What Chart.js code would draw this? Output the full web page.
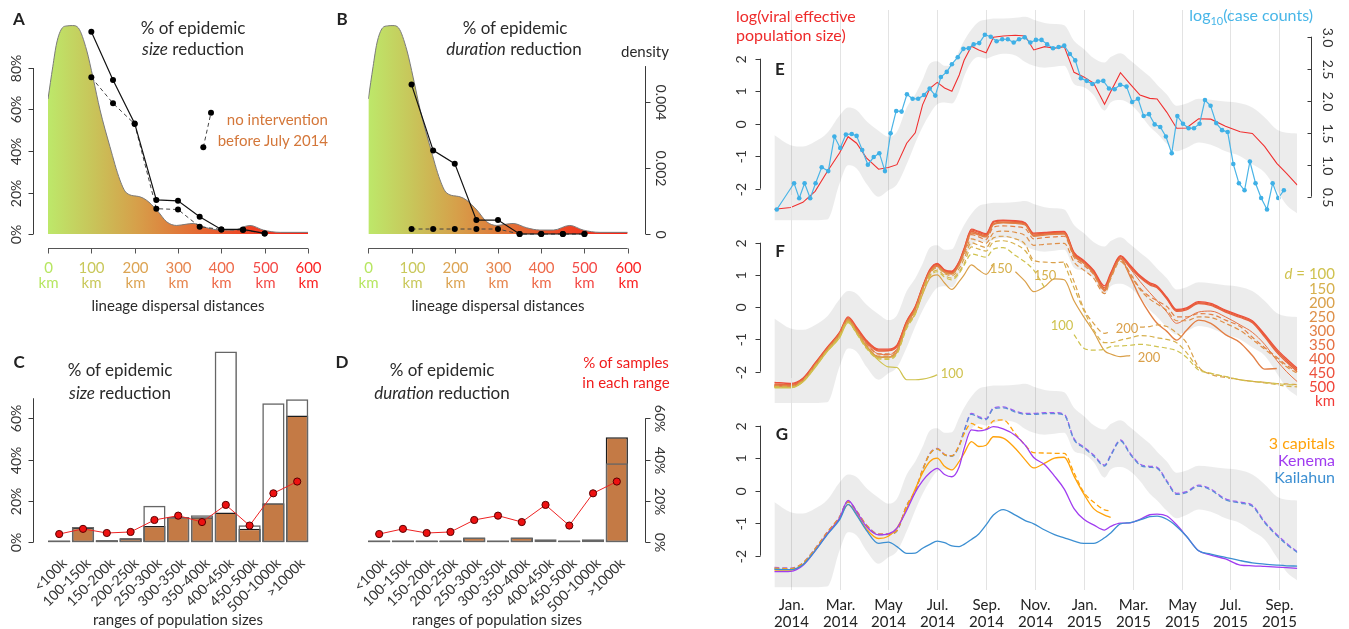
<!DOCTYPE html>
<html>
<head>
<meta charset="utf-8">
<title>Intervention scenarios and effective population size</title>
<script src="https://cdn.jsdelivr.net/npm/chart.js@4.4.1/dist/chart.umd.min.js"></script>
<style>
  html, body { margin: 0; padding: 0; background: #fff; }
  body { width: 1349px; height: 629px; position: relative; overflow: hidden; font-family: Lato, "Open Sans", sans-serif; color: #2a2a2a; }
  canvas { position: absolute; left: 0; top: 0; }
  .t { position: absolute; z-index: 5; white-space: nowrap; line-height: 1; transform: translate(-50%, -50%); }
  .r { transform: translate(-100%, -50%); }
  .l { transform: translate(0, -50%); }
  .title { font-size: 17px; }
  .lab { font-size: 17px; font-weight: bold; color: #222; }
  .axt { font-size: 15px; }
  .leg { font-size: 15px; }
  .fl { font-size: 13px; }
  sub { font-size: 11px; vertical-align: -4px; line-height: 0; }
</style>
</head>
<body>

<div class="t lab" style="left:19px;top:18px">A</div>
<div class="t lab" style="left:342px;top:18px">B</div>
<div class="t lab" style="left:19px;top:361px">C</div>
<div class="t lab" style="left:342px;top:361px">D</div>
<div class="t lab" style="left:780px;top:68px">E</div>
<div class="t lab" style="left:780px;top:250px">F</div>
<div class="t lab" style="left:782px;top:433px">G</div>

<div class="t title" style="left:193px;top:27px">% of epidemic</div>
<div class="t title" style="left:193px;top:48px"><i>size</i> reduction</div>
<div class="t title" style="left:515px;top:27px">% of epidemic</div>
<div class="t title" style="left:514px;top:48px"><i>duration</i> reduction</div>
<div class="t axt" style="left:645px;top:51px">density</div>
<div class="t leg r" style="left:328px;top:119px;color:#d4773a">no intervention</div>
<div class="t leg r" style="left:328px;top:140px;color:#d4773a">before July 2014</div>
<div class="t axt" style="left:178px;top:305px">lineage dispersal distances</div>
<div class="t axt" style="left:498px;top:305px">lineage dispersal distances</div>

<div class="t title" style="left:120px;top:369px">% of epidemic</div>
<div class="t title" style="left:120px;top:392px"><i>size</i> reduction</div>
<div class="t title" style="left:442px;top:369px">% of epidemic</div>
<div class="t title" style="left:442px;top:392px"><i>duration</i> reduction</div>
<div class="t leg" style="left:626px;top:362px;color:#f01c1c">% of samples</div>
<div class="t leg" style="left:626px;top:382px;color:#f01c1c">in each range</div>
<div class="t axt" style="left:178px;top:619px">ranges of population sizes</div>
<div class="t axt" style="left:497px;top:619px">ranges of population sizes</div>

<div class="t leg l" style="left:736px;top:16px;color:#ee2b2b;font-size:16px">log(viral effective</div>
<div class="t leg l" style="left:736px;top:35px;color:#ee2b2b;font-size:16px">population size)</div>
<div class="t leg r" style="left:1313px;top:15px;color:#48b6e8;font-size:16px">log<sub>10</sub>(case counts)</div>

<div class="t leg r" style="left:1335px;top:273px;color:#cfc24e"><i>d</i> = 100</div>
<div class="t leg r" style="left:1335px;top:288px;color:#d6b04c">150</div>
<div class="t leg r" style="left:1335px;top:302px;color:#daa04a">200</div>
<div class="t leg r" style="left:1335px;top:316px;color:#de8f48">250</div>
<div class="t leg r" style="left:1335px;top:330px;color:#e27f45">300</div>
<div class="t leg r" style="left:1335px;top:344px;color:#e66f42">350</div>
<div class="t leg r" style="left:1335px;top:358px;color:#e9603f">400</div>
<div class="t leg r" style="left:1335px;top:372px;color:#ed503c">450</div>
<div class="t leg r" style="left:1335px;top:386px;color:#f04438">500</div>
<div class="t leg r" style="left:1335px;top:400px;color:#f23a36">km</div>

<div class="t fl" style="left:952px;top:373px;color:#cfc24e">100</div>
<div class="t fl" style="left:1001px;top:268px;color:#d6b04c">150</div>
<div class="t fl" style="left:1045px;top:275px;color:#d6b04c">150</div>
<div class="t fl" style="left:1062px;top:325px;color:#cfc24e">100</div>
<div class="t fl" style="left:1127px;top:328px;color:#daa04a">200</div>
<div class="t fl" style="left:1149px;top:357px;color:#daa04a">200</div>

<div class="t leg r" style="left:1335px;top:443px;color:#ffa20a;font-size:16px">3 capitals</div>
<div class="t leg r" style="left:1335px;top:460px;color:#a03cf0;font-size:16px">Kenema</div>
<div class="t leg r" style="left:1335px;top:477px;color:#3c8fd2;font-size:16px">Kailahun</div>

<script>
// ---------- panels A & B: lineage dispersal distances ----------
const distKm = [0, 11, 20, 33, 44, 57, 70, 89, 104, 120, 143, 166, 181, 212, 227, 251, 274, 297, 320, 335, 366, 397, 428, 466, 497, 536, 600];
const density = [0.00410, 0.00508, 0.00580, 0.00626, 0.00632, 0.00633, 0.00626, 0.00559, 0.00474, 0.00377, 0.00265, 0.00164, 0.00125, 0.00113, 0.00103, 0.00073, 0.00037, 0.00026, 0.00030, 0.00032, 0.00019, 0.00012, 0.00012, 0.00026, 0.00012, 0.00005, 0.00005];
const interventionKm = [100, 150, 200, 250, 300, 350, 400, 450, 500];
const sizeReduction = [97.5, 74.2, 53.3, 16.4, 16.0, 8.3, 2.2, 2.2, 0.3];
const sizeReductionLate = [75.5, 63.0, 53.0, 12.2, 11.8, 3.5, 2.2, 1.9, 0.3];
const durationReduction = [72.0, 40.3, 33.9, 6.7, 6.7, 0, 0, 0, 0];
const durationReductionLate = [2.4, 2.4, 2.4, 2.4, 2.4, 0, 0, 0, 0];
const kmTicks = [0, 100, 200, 300, 400, 500, 600];
const kmColors = ['#b7e661', '#c9c85b', '#dca453', '#e6864f', '#ee6a4a', '#f44a47', '#fb2424'];

// ---------- panels C & D: ranges of population sizes ----------
const popRanges = ['<100k', '100-150k', '150-200k', '200-250k', '250-300k', '300-350k', '350-400k', '400-450k', '450-500k', '500-1000k', '>1000k'];
const sizeFilled = [0.9, 7.1, 1.0, 1.9, 7.9, 12.3, 12.1, 14.4, 6.5, 18.9, 61.3];
const sizeOpen = [0.9, 7.4, 1.0, 1.9, 17.7, 12.3, 13.1, 92.3, 8.2, 67.3, 69.2];
const durationFilled = [0.9, 0.9, 0.9, 0.9, 2.3, 0.9, 2.3, 0, 0.9, 0, 50.8];
const durationOpen = [0.9, 0.9, 0.9, 0.9, 2.3, 0.9, 2.3, 1.5, 0.9, 1.5, 38.2];
const samplePct = [4.0, 6.5, 4.5, 5.0, 10.8, 12.9, 9.8, 18.1, 8.1, 23.7, 29.4];

// ---------- panels E, F, G: time in months since 1 Jan 2014 ----------
const monthTicks = [0, 2, 4, 6, 8, 10, 12, 14, 16, 18, 20];
const monthLabels = [['Jan.', '2014'], ['Mar.', '2014'], ['May', '2014'], ['Jul.', '2014'], ['Sep.', '2014'], ['Nov.', '2014'],
                     ['Jan.', '2015'], ['Mar.', '2015'], ['May', '2015'], ['Jul.', '2015'], ['Sep.', '2015']];
const MONTHS = [-0.67, 0, 0.5, 1, 1.5, 2, 2.35, 2.7, 3.1, 3.6,
                4.0, 4.35, 4.75, 5.1, 5.4, 5.7, 6.0, 6.3, 6.6, 6.9,
                7.1, 7.4, 7.7, 8.0, 8.3, 8.7, 9.2, 9.6, 9.95, 10.4,
                10.8, 11.2, 11.6, 12.0, 12.4, 12.85, 13.1, 13.5, 13.9, 14.3,
                14.7, 15.0, 15.4, 15.8, 16.2, 16.7, 17.2, 17.8, 18.4, 18.9,
                19.4, 19.9, 20.3, 20.74];

const bandUpper = [-0.35, -0.66, -0.70, -0.55, -0.28, 0.25, 0.50, 0.42, 0.08, -0.22,
                   -0.40, -0.25, 0.50, 0.90, 1.35, 1.85, 1.92, 1.78, 1.80, 2.25,
                   2.55, 2.90, 3.14, 3.20, 3.24, 3.24, 3.26, 3.29, 3.20, 3.10,
                   3.07, 3.03, 2.55, 2.30, 2.02, 1.88, 2.05, 2.17, 1.95, 1.70,
                   1.45, 1.20, 0.90, 0.55, 0.62, 0.77, 0.74, 0.68, 0.63, 0.50,
                   0.20, -0.18, -0.28, -0.30];
const bandLower = [-2.97, -2.97, -2.97, -2.97, -2.95, -1.85, -1.28, -1.38, -1.85, -2.25,
                   -2.05, -1.87, -1.25, -0.60, -0.10, 0.30, 0.60, 0.65, 0.62, 1.00,
                   1.45, 1.90, 2.05, 2.00, 2.08, 2.15, 2.10, 1.90, 1.78, 1.72,
                   1.75, 1.78, 1.22, 1.12, 0.88, 0.40, 0.65, 0.73, 0.60, 0.30,
                   -0.09, -0.30, -0.62, -0.85, -0.75, -0.58, -0.65, -0.85, -1.00, -1.25,
                   -1.50, -2.05, -2.50, -2.76];
const logNe = [-2.63, -2.58, -2.42, -2.08, -1.47, -0.90, -0.40, -0.60, -1.05, -1.40,
               -1.35, -1.26, -0.60, -0.28, 0.58, 1.09, 1.27, 1.10, 1.00, 1.50,
               1.95, 2.38, 2.27, 2.18, 2.66, 2.70, 2.72, 2.70, 2.27, 2.37,
               2.32, 2.37, 1.58, 1.44, 1.25, 0.60, 0.98, 1.57, 1.22, 0.88,
               0.78, 0.76, 0.35, -0.14, -0.13, 0.15, 0.14, -0.08, -0.25, -0.30,
               -0.70, -1.22, -1.53, -1.89];

const caseMonths = [-0.57, 0.14, 0.35, 0.57, 0.80, 1.02, 1.27, 1.54, 1.79, 2.03, 2.26, 2.50, 2.70, 2.93, 3.16, 3.40, 3.63, 3.86, 4.09, 4.32,
                    4.54, 4.76, 4.99, 5.22, 5.46, 5.69, 5.92, 6.15, 6.39, 6.60, 6.84, 7.07, 7.29, 7.49, 7.72, 7.95, 8.19, 8.43, 8.66, 8.89,
                    9.13, 9.35, 9.58, 9.81, 10.04, 10.27, 10.50, 10.74, 10.97, 11.20, 11.43, 11.65, 11.88, 12.12, 12.35, 12.58, 12.80, 13.03, 13.26, 13.49,
                    13.75, 13.98, 14.22, 14.45, 14.67, 14.90, 15.13, 15.36, 15.60, 15.83, 16.06, 16.29, 16.51, 16.74, 16.96, 17.19, 17.42, 17.66, 17.89, 18.12,
                    18.35, 18.58, 18.80, 19.03, 19.26, 19.50, 19.73, 19.96, 20.19];
const caseLog10 = [0.30, 0.71, 0.475, 0.71, 0.475, 0.71, 0.96, 0.90, 1.44, 1.26, 1.47, 1.48, 1.45, 1.23, 1.00, 1.12, 1.18, 0.90, 1.49, 1.84,
                   1.83, 2.10, 2.03, 2.03, 2.09, 2.19, 2.08, 2.37, 2.45, 2.57, 2.68, 2.81, 2.82, 2.88, 2.90, 3.03, 3.00, 2.93, 2.96, 2.96,
                   2.91, 2.96, 2.99, 2.91, 2.95, 2.95, 2.88, 2.82, 2.84, 2.86, 2.73, 2.63, 2.35, 2.31, 2.26, 2.30, 2.31, 2.19, 2.18, 2.25,
                   2.22, 1.98, 2.03, 1.76, 1.79, 1.63, 1.59, 1.44, 1.18, 1.76, 1.64, 1.57, 1.57, 1.64, 2.01, 1.92, 1.65, 1.54, 1.51, 1.01,
                   0.71, 0.60, 1.05, 0.71, 0.48, 0.30, 0.71, 0.48, 0.60];

// F: simulations with a maximal lineage dispersal distance d (solid / dashed scenarios)
const fSolid500 = [-2.38, -2.40, -2.22, -1.75, -1.26, -0.80, -0.33, -0.65, -1.05, -1.33,
                   -1.33, -1.20, -0.45, 0.00, 0.62, 1.15, 1.33, 1.14, 1.10, 1.40,
                   1.80, 2.39, 2.32, 2.25, 2.63, 2.68, 2.66, 2.60, 2.27, 2.30,
                   2.32, 2.33, 1.66, 1.42, 1.12, 0.60, 1.02, 1.57, 1.26, 0.95,
                   0.72, 0.63, 0.28, -0.10, -0.05, 0.14, 0.09, -0.12, -0.29, -0.45,
                   -0.88, -1.35, -1.65, -1.95];
const fSolid450 = [-2.33, -2.36, -2.20, -1.73, -1.24, -0.78, -0.30, -0.62, -1.02, -1.30,
                   -1.30, -1.18, -0.43, 0.02, 0.64, 1.17, 1.36, 1.16, 1.12, 1.42,
                   1.82, 2.42, 2.35, 2.28, 2.66, 2.70, 2.68, 2.62, 2.30, 2.32,
                   2.34, 2.35, 1.70, 1.45, 1.15, 0.66, 1.06, 1.60, 1.30, 0.98,
                   0.76, 0.66, 0.31, -0.07, -0.02, 0.17, 0.12, -0.09, -0.26, -0.42,
                   -0.84, -1.30, -1.60, -1.90];
const fSolid400 = [-2.43, -2.44, -2.25, -1.78, -1.29, -0.83, -0.37, -0.68, -1.08, -1.36,
                   -1.35, -1.22, -0.48, -0.03, 0.60, 1.12, 1.30, 1.12, 1.07, 1.37,
                   1.76, 2.35, 2.28, 2.21, 2.58, 2.64, 2.63, 2.57, 2.23, 2.27,
                   2.29, 2.30, 1.62, 1.38, 1.08, 0.55, 0.98, 1.53, 1.23, 0.92,
                   0.69, 0.60, 0.25, -0.13, -0.08, 0.11, 0.06, -0.15, -0.32, -0.48,
                   -0.92, -1.40, -1.70, -2.00];
const fSolid350 = [-2.40, -2.42, -2.24, -1.77, -1.28, -0.81, -0.35, -0.70, -1.12, -1.45,
                   -1.47, -1.30, -0.50, -0.05, 0.58, 1.10, 1.28, 1.10, 1.05, 1.35,
                   1.74, 2.33, 2.26, 2.20, 2.58, 2.63, 2.62, 2.56, 2.22, 2.26,
                   2.28, 2.29, 1.62, 1.38, 1.07, 0.55, 0.97, 1.52, 1.20, 0.80,
                   0.45, 0.20, -0.15, -0.50, -0.35, -0.15, -0.12, -0.30, -0.55, -0.78,
                   -1.15, -1.65, -2.00, -2.31];
const fSolid300 = [-2.45, -2.46, -2.28, -1.80, -1.30, -0.85, -0.38, -0.75, -1.20, -1.55,
                   -1.55, -1.38, -0.55, -0.08, 0.56, 1.08, 1.27, 1.08, 1.03, 1.33,
                   1.72, 2.30, 2.24, 2.18, 2.56, 2.62, 2.60, 2.55, 2.20, 2.24,
                   2.26, 2.27, 1.60, 1.36, 1.05, 0.52, 0.95, 1.50, 0.95, 0.30,
                   -0.20, -0.50, -0.75, -1.02, -0.72, -0.40, -0.50, -0.85, -1.10, -1.50,
                   -1.92, -1.90, null, null];
const fSolid200 = [-2.47, -2.48, -2.30, -1.83, -1.33, -0.88, -0.42, -0.78, -1.22, -1.55,
                   -1.55, -1.40, -0.60, -0.20, 0.40, 0.90, 1.00, 0.75, 0.55, 0.80,
                   1.00, 1.31, 1.15, 1.02, 1.31, null, 1.10, 0.80, 0.48, 0.64,
                   0.88, 0.85, 0.20, -0.30, -0.76, -1.35, -1.45, -1.53, -1.50, null,
                   null, null, null, null, null, null, null, null, null, null,
                   null, null, null, null];
const fSolid100 = [-2.50, -2.50, -2.32, -1.87, -1.37, -0.95, -0.48, -0.80, -1.25, -1.65,
                   -1.85, -1.87, -2.25, -2.25, -2.23, -2.18, -2.10, null, null, null,
                   null, null, null, null, null, null, null, null, null, null,
                   null, null, null, null, null, null, null, null, null, null,
                   null, null, null, null, null, null, null, null, null, null,
                   null, null, null, null];
const fDash300 = [-2.42, -2.43, -2.25, -1.78, -1.29, -0.83, -0.36, -0.70, -1.12, -1.45,
                  -1.45, -1.30, -0.50, -0.05, 0.58, 1.10, 1.27, 1.10, 1.05, 1.33,
                  1.70, 2.25, 2.18, 2.10, 2.48, 2.52, 2.50, 2.44, 2.12, 2.16,
                  2.18, 2.20, 1.55, 1.30, 1.02, 0.50, 0.93, 1.48, 1.05, 0.59,
                  0.33, 0.20, 0.02, -0.30, -0.30, -0.20, -0.22, -0.40, -0.60, -0.93,
                  -1.25, -1.55, -1.80, -2.00];
const fDash250 = [-2.44, -2.45, -2.27, -1.80, -1.31, -0.85, -0.38, -0.74, -1.18, -1.52,
                  -1.52, -1.36, -0.54, -0.08, 0.56, 1.08, 1.26, 1.08, 1.03, 1.30,
                  1.62, 2.12, 2.05, 1.98, 2.30, 2.36, 2.32, 2.22, 1.92, 1.95,
                  1.97, 1.98, 1.40, 1.15, 0.90, 0.42, 0.88, 1.42, 1.00, 0.55,
                  0.25, 0.10, -0.10, -0.42, -0.42, -0.30, -0.32, -0.50, -0.72, -1.00,
                  -1.30, -1.60, -1.85, -2.05];
const fDash200 = [-2.46, -2.47, -2.29, -1.82, -1.33, -0.87, -0.41, -0.78, -1.22, -1.55,
                  -1.56, -1.40, -0.58, -0.12, 0.52, 1.04, 1.22, 1.04, 0.98, 1.20,
                  1.50, 2.00, 1.92, 1.85, 2.15, 2.20, 2.12, 1.95, 1.45, 1.40,
                  1.38, 1.40, 0.80, -0.05, -0.50, -0.81, -0.75, null, null, -0.62,
                  -0.60, -0.55, -0.60, -0.80, -1.10, -1.85, -2.08, -2.18, -2.25, -2.30,
                  -2.33, -2.37, -2.38, -2.40];
const fDash150 = [-2.47, -2.48, -2.30, -1.84, -1.35, -0.90, -0.44, -0.80, -1.25, -1.57,
                  -1.58, -1.42, -0.62, -0.18, 0.46, 0.98, 1.15, 0.98, 0.90, 1.10,
                  1.35, 1.87, 1.80, 1.74, 2.02, 2.06, 1.95, 1.75, 1.35, null,
                  null, 1.36, 0.60, -0.10, -0.70, -1.10, -1.10, -1.02, -0.95, -0.88,
                  -0.90, -0.95, -1.00, -1.10, -1.40, -1.90, -2.05, -2.15, -2.25, -2.30,
                  -2.35, -2.40, -2.45, -2.47];
const fDash100 = [-2.48, -2.49, -2.31, -1.85, -1.36, -0.92, -0.46, -0.82, -1.28, -1.60,
                  -1.62, -1.45, -0.66, -0.22, 0.42, 0.95, 1.10, 0.93, 0.85, 1.05,
                  1.30, 1.65, 1.60, 1.55, 1.80, 1.85, 1.60, 1.40, 1.15, 0.60,
                  null, null, -0.85, -1.27, -1.33, -1.30, -1.22, -1.20, -1.18, -1.15,
                  -1.18, -1.22, -1.27, -1.35, -1.55, -1.95, -2.05, -2.15, -2.25, -2.30,
                  -2.33, -2.37, -2.40, -2.41];

// G: simulations starting from the three capitals, Kenema or Kailahun
const gKenemaDash = [-2.36, -2.38, -2.22, -1.78, -1.27, -0.80, -0.32, -0.62, -1.05, -1.33,
                     -1.33, -1.22, -0.45, 0.00, 0.65, 1.15, 1.30, 1.12, 1.08, 1.40,
                     1.85, 2.38, 2.28, 2.22, 2.55, 2.58, 2.45, 2.38, 2.38, 2.40,
                     2.40, 2.35, 1.60, 1.35, 1.10, 0.79, 1.10, 1.56, 1.15, 0.82,
                     0.75, 0.72, 0.30, -0.08, -0.03, 0.17, 0.05, -0.25, -0.35, -0.45,
                     -0.95, -1.35, -1.62, -1.88];
const gKailahunDash = [-2.40, -2.41, -2.24, -1.80, -1.29, -0.82, -0.35, -0.64, -1.07, -1.35,
                       -1.35, -1.24, -0.47, -0.02, 0.63, 1.13, 1.28, 1.10, 1.06, 1.38,
                       1.83, 2.35, 2.25, 2.19, 2.52, 2.55, 2.42, 2.35, 2.35, 2.37,
                       2.37, 2.32, 1.57, 1.32, 1.07, 0.76, 1.07, 1.53, 1.12, 0.79,
                       0.72, 0.69, 0.27, -0.11, -0.06, 0.14, 0.02, -0.28, -0.38, -0.48,
                       -0.98, -1.38, -1.65, -1.90];
const gCapitalsDash = [-2.38, -2.40, -2.23, -1.79, -1.28, -0.81, -0.34, -0.63, -1.06, -1.34,
                       -1.34, -1.23, -0.46, -0.01, 0.64, 1.14, 1.29, 1.11, 1.07, 1.39,
                       1.75, 2.07, 1.95, 1.90, 2.15, 2.18, 1.75, 1.40, 1.17, 1.16,
                       1.15, 1.15, 0.55, -0.05, -0.35, -0.59, -0.62, null, null, null,
                       null, null, null, null, null, null, null, null, null, null,
                       null, null, null, null];
const gCapitals = [-2.44, -2.44, -2.27, -1.83, -1.32, -0.85, -0.42, -0.72, -1.18, -1.47,
                   -1.40, -1.15, -0.55, 0.05, 0.55, 0.90, 1.00, 0.75, 0.64, 0.90,
                   1.15, 1.51, 1.36, 1.40, 1.66, 1.62, 1.30, 0.95, 0.70, 0.85,
                   1.00, 1.03, 0.45, -0.10, -0.55, -0.75, -0.82, null, null, null,
                   null, null, null, null, null, null, null, null, null, null,
                   null, null, null, null];
const gKenema = [-2.49, -2.48, -2.30, -1.85, -1.33, -0.85, -0.30, -0.65, -1.10, -1.36,
                 -1.33, -1.15, -0.60, -0.05, 0.30, 0.55, 0.69, 0.50, 0.43, 0.74,
                 1.30, 1.87, 1.84, 1.88, 1.97, 1.90, 1.70, 1.40, 1.02, 0.80,
                 0.45, 0.05, -0.55, -0.88, -1.05, -1.21, -1.10, -1.00, -0.99, -0.88,
                 -0.74, -0.72, -0.78, -1.05, -1.40, -1.85, -1.98, -2.10, -2.29, -2.31,
                 -2.33, -2.35, -2.37, -2.39];
const gKailahun = [-2.42, -2.43, -2.28, -1.85, -1.35, -0.90, -0.42, -0.75, -1.22, -1.62,
                   -1.58, -1.72, -1.93, -1.92, -1.77, -1.65, -1.55, -1.60, -1.70, -1.72,
                   -1.65, -1.50, -1.33, -1.05, -0.75, -0.58, -0.75, -0.92, -1.02, -1.21,
                   -1.35, -1.45, -1.55, -1.62, -1.62, -1.45, -1.30, -1.02, -0.98, -0.90,
                   -0.80, -0.78, -0.88, -1.10, -1.40, -1.85, -1.95, -2.05, -2.15, -2.22,
                   -2.26, -2.29, -2.31, -2.32];

const dColors = { 100: '#cfc24e', 150: '#d6b04c', 200: '#daa04a', 250: '#de8f48', 300: '#e27f45',
                  350: '#e66f42', 400: '#e9603f', 450: '#ed503c', 500: '#f04438' };

// ---------- helpers ----------
const W = 1349, H = 629;
const FONT = 'Lato, "Open Sans", sans-serif';

function makeCanvas(id) {
  const c = document.createElement('canvas');
  c.id = id;
  c.width = W;
  c.height = H;
  c.style.width = W + 'px';
  c.style.height = H + 'px';
  document.body.appendChild(c);
  return c;
}

// min/max of a vertical scale so that value v1 sits at pixel p1 and v2 at p2
function vRange(v1, p1, v2, p2, top, bottom) {
  const k = (p2 - p1) / (v2 - v1);
  return { min: v1 + (bottom - p1) / k, max: v1 + (top - p1) / k };
}

function series(xs, ys) {
  return xs.map((x, i) => ({ x: x, y: ys[i] }));
}

function drawAxis(ctx, scale, ax) {
  ctx.save();
  ctx.strokeStyle = ax.lineColor || '#3a3a3a';
  ctx.fillStyle = ax.color || '#333';
  ctx.lineWidth = 1;
  ctx.font = ax.font || ('14px ' + FONT);
  const vertical = ax.side === 'left' || ax.side === 'right';
  const out = ax.side === 'left' ? -1 : 1;
  const tdir = ax.inward ? -out : out;
  const pos = (v) => scale.getPixelForValue(v);
  if (ax.span) {
    const p0 = pos(ax.span[0]), p1 = pos(ax.span[1]);
    ctx.beginPath();
    if (vertical) { ctx.moveTo(ax.at, p0); ctx.lineTo(ax.at, p1); }
    else { ctx.moveTo(p0, ax.at); ctx.lineTo(p1, ax.at); }
    ctx.stroke();
  }
  ax.ticks.forEach((v, i) => {
    const p = Math.round(pos(v)) + 0.5;
    if (ax.tick) {
      ctx.beginPath();
      if (vertical) { ctx.moveTo(ax.at, p); ctx.lineTo(ax.at + tdir * ax.tick, p); }
      else { ctx.moveTo(p, ax.at); ctx.lineTo(p, ax.at + tdir * ax.tick); }
      ctx.stroke();
    }
    const lines = [].concat(ax.labels[i]);
    if (ax.colors) ctx.fillStyle = ax.colors[i];
    ctx.save();
    if (vertical) ctx.translate(ax.at + out * ax.gap, p);
    else ctx.translate(p + (ax.dx || 0), ax.at + ax.gap);
    ctx.rotate((ax.rot || 0) * Math.PI / 180);
    ctx.textAlign = ax.align || 'center';
    ctx.textBaseline = 'middle';
    lines.forEach((s, j) => ctx.fillText(s, 0, j * (ax.lineH || 0)));
    ctx.restore();
  });
  ctx.restore();
}

const rAxisPlugin = {
  id: 'rAxis',
  beforeDatasetsDraw(chart, args, opts) {
    if (!opts.vgrid) return;
    const ctx = chart.ctx, sx = chart.scales.x, a = chart.chartArea;
    ctx.save();
    ctx.strokeStyle = '#e3e3e3';
    ctx.lineWidth = 1;
    opts.vgrid.forEach((v) => {
      const x = Math.round(sx.getPixelForValue(v)) + 0.5;
      ctx.beginPath();
      ctx.moveTo(x, a.top);
      ctx.lineTo(x, a.bottom);
      ctx.stroke();
    });
    ctx.restore();
  },
  afterDraw(chart, args, opts) {
    const ctx = chart.ctx;
    (opts.axes || []).forEach((ax) => drawAxis(ctx, chart.scales[ax.scale], ax));
    (opts.keys || []).forEach((k) => {
      ctx.save();
      ctx.strokeStyle = k.color;
      ctx.fillStyle = '#000';
      ctx.lineWidth = 1;
      ctx.setLineDash(k.dash || []);
      ctx.beginPath();
      ctx.moveTo(k.x1, k.y1);
      ctx.lineTo(k.x2, k.y2);
      ctx.stroke();
      ctx.setLineDash([]);
      [[k.x1, k.y1], [k.x2, k.y2]].forEach((p) => {
        ctx.beginPath();
        ctx.arc(p[0], p[1], 3, 0, Math.PI * 2);
        ctx.fill();
      });
      ctx.restore();
    });
  }
};
Chart.register(rAxisPlugin);

function baseOptions(area, scales, rAxis) {
  return {
    responsive: false,
    animation: false,
    devicePixelRatio: 1,
    events: [],
    layout: { padding: { left: area.l, top: area.t, right: W - area.r, bottom: H - area.b } },
    plugins: { legend: { display: false }, tooltip: { enabled: false }, rAxis: rAxis },
    scales: scales
  };
}

function densityFill(c) {
  const chart = c.chart, a = chart.chartArea;
  if (!a) return 'rgba(0,0,0,0)';
  const g = chart.ctx.createLinearGradient(a.left, 0, a.right, 0);
  g.addColorStop(0, '#bde86a');
  g.addColorStop(0.17, '#c8c55a');
  g.addColorStop(0.34, '#d6a04a');
  g.addColorStop(0.5, '#e07a3a');
  g.addColorStop(0.67, '#ea572c');
  g.addColorStop(0.83, '#f2381f');
  g.addColorStop(1, '#ff2012');
  return g;
}

// ---------- A and B ----------
function distancePanel(id, area, solid, dashed, extraAxes, keys) {
  const pct = vRange(0, 234, 80, 68, area.t, area.b);
  const dens = vRange(0, 234, 0.004, 102.3, area.t, area.b);
  const axes = [{
    scale: 'x', side: 'bottom', at: 248.5, ticks: kmTicks, span: [0, 600], tick: 5, gap: 20, lineH: 15,
    labels: kmTicks.map((v) => [String(v), 'km']), colors: kmColors, font: '15px ' + FONT, lineColor: '#555'
  }].concat(extraAxes);
  new Chart(makeCanvas(id), {
    type: 'line',
    data: {
      datasets: [
        { data: series(interventionKm, solid), yAxisID: 'y', borderColor: '#111', borderWidth: 1.2,
          pointRadius: 3, pointBackgroundColor: '#000', pointBorderWidth: 0, clip: false, order: 0 },
        { data: series(interventionKm, dashed), yAxisID: 'y', borderColor: '#444', borderWidth: 1, borderDash: [4, 3],
          pointRadius: 3, pointBackgroundColor: '#000', pointBorderWidth: 0, clip: false, order: 1 },
        { data: series(distKm, density), yAxisID: 'yd', borderColor: '#7a7a7a', borderWidth: 1, pointRadius: 0,
          fill: 'origin', backgroundColor: densityFill, cubicInterpolationMode: 'monotone', order: 5 }
      ]
    },
    options: baseOptions(area, {
      x: { type: 'linear', min: 0, max: 600, display: false },
      y: { type: 'linear', min: pct.min, max: pct.max, display: false },
      yd: { type: 'linear', min: dens.min, max: dens.max, display: false }
    }, { axes: axes, keys: keys || [] })
  });
}

distancePanel('chartA', { l: 48, r: 308, t: 18, b: 234 }, sizeReduction, sizeReductionLate, [{
  scale: 'y', side: 'left', at: 33.5, ticks: [0, 20, 40, 60, 80], span: [0, 80], tick: 5, gap: 17, rot: -90,
  labels: ['0%', '20%', '40%', '60%', '80%'], font: '14px ' + FONT
}], [{ x1: 203.3, y1: 147.3, x2: 211, y2: 112.7, dash: [4, 3], color: '#444' }]);

distancePanel('chartB', { l: 368.3, r: 627.7, t: 18, b: 234 }, durationReduction, durationReductionLate, [{
  scale: 'yd', side: 'right', at: 645.5, ticks: [0, 0.002, 0.004], span: [0, 0.0051], tick: 5, gap: 15, rot: 90,
  labels: ['0', '0.002', '0.004'], font: '14px ' + FONT
}]);

// ---------- C and D ----------
function rangePanel(id, area, filled, open, sideAxis) {
  const pct = vRange(0, 542.3, 60, 418.3, area.t, area.b);
  const axes = [{
    scale: 'x', side: 'bottom', at: 542, ticks: popRanges.map((_, i) => i), gap: 19, dx: 5, rot: -45, align: 'right',
    labels: popRanges, font: '14px ' + FONT
  }, sideAxis];
  new Chart(makeCanvas(id), {
    type: 'bar',
    data: {
      labels: popRanges,
      datasets: [
        { type: 'line', data: samplePct, borderColor: '#ee2222', borderWidth: 1, pointRadius: 3.6,
          pointBackgroundColor: '#ee1111', pointBorderColor: '#5a0000', pointBorderWidth: 1, clip: false, order: 0 },
        { type: 'bar', data: open, backgroundColor: 'rgba(0,0,0,0)', borderColor: '#666', borderWidth: 1.5,
          borderSkipped: false, grouped: false, barPercentage: 0.935, categoryPercentage: 1, clip: false, order: 1 },
        { type: 'bar', data: filled, backgroundColor: '#c47a45', borderColor: '#1c1c1c', borderWidth: 1.5,
          borderSkipped: false, grouped: false, barPercentage: 0.935, categoryPercentage: 1, clip: false, order: 2 }
      ]
    },
    options: baseOptions(area, {
      x: { type: 'category', labels: popRanges, offset: true, display: false },
      y: { type: 'linear', min: pct.min, max: pct.max, display: false }
    }, { axes: axes })
  });
}

rangePanel('chartC', { l: 47.3, r: 309.1, t: 340, b: 542.3 }, sizeFilled, sizeOpen, {
  scale: 'y', side: 'left', at: 33.5, ticks: [0, 20, 40, 60], span: [0, 69.7], tick: 5, gap: 17, rot: -90,
  labels: ['0%', '20%', '40%', '60%'], font: '14px ' + FONT
});
rangePanel('chartD', { l: 367.3, r: 628.7, t: 340, b: 542.3 }, durationFilled, durationOpen, {
  scale: 'y', side: 'right', at: 645.5, ticks: [0, 20, 40, 60], span: [0, 60], tick: 5, gap: 14, rot: 90,
  labels: ['0%', '20%', '40%', '60%'], font: '14px ' + FONT
});

// ---------- E, F, G ----------
function bandSets() {
  return [
    { data: series(MONTHS, bandUpper), borderWidth: 0, borderColor: 'rgba(0,0,0,0)', pointRadius: 0,
      fill: '+1', backgroundColor: 'rgba(0,0,0,0.075)', cubicInterpolationMode: 'monotone', order: 100 },
    { data: series(MONTHS, bandLower), borderWidth: 0, borderColor: 'rgba(0,0,0,0)', pointRadius: 0,
      fill: false, cubicInterpolationMode: 'monotone', order: 100 }
  ];
}

function simLine(ys, color, dashed, width) {
  return { data: series(MONTHS, ys), borderColor: color, borderWidth: width || 1.2, borderDash: dashed ? [5, 3] : [],
           pointRadius: 0, fill: false, cubicInterpolationMode: 'monotone', order: 0 };
}

function leftNeAxis(extra) {
  return [{
    scale: 'y', side: 'left', at: 760.5, ticks: [-2, -1, 0, 1, 2], span: [-2, 2], tick: 5, gap: 19, rot: -90,
    labels: ['-2', '-1', '0', '1', '2'], font: '14px ' + FONT
  }].concat(extra || []);
}

const timeX = { type: 'linear', min: -0.67, max: 20.74, display: false };

// E
(function () {
  const area = { l: 774.3, r: 1297.3, t: 10, b: 222 };
  const ne = vRange(2, 58.7, -2, 188.7, area.t, area.b);
  const cc = vRange(3, 36.7, 0.5, 196.7, area.t, area.b);
  new Chart(makeCanvas('chartE'), {
    type: 'line',
    data: {
      datasets: bandSets().concat([
        { data: series(MONTHS, logNe), yAxisID: 'y', borderColor: '#f03030', borderWidth: 1.1, pointRadius: 0,
          tension: 0, order: 1 },
        { data: series(caseMonths, caseLog10), yAxisID: 'yc', borderColor: '#4ab4e6', borderWidth: 1.2,
          pointRadius: 2.3, pointBackgroundColor: '#3fb0e6', pointBorderWidth: 0, tension: 0, order: 0 }
      ])
    },
    options: baseOptions(area, {
      x: timeX,
      y: { type: 'linear', min: ne.min, max: ne.max, display: false },
      yc: { type: 'linear', min: cc.min, max: cc.max, display: false }
    }, {
      vgrid: monthTicks,
      axes: leftNeAxis([{
        scale: 'yc', side: 'right', at: 1311.5, ticks: [0.5, 1, 1.5, 2, 2.5, 3], span: [0.5, 3], tick: 4, inward: true,
        gap: 16, rot: 90, labels: ['0.5', '1.0', '1.5', '2.0', '2.5', '3.0'], font: '14px ' + FONT
      }])
    })
  });
})();

// F
(function () {
  const area = { l: 774.3, r: 1297.3, t: 195, b: 405 };
  const ne = vRange(2, 242.7, -2, 371.7, area.t, area.b);
  new Chart(makeCanvas('chartF'), {
    type: 'line',
    data: {
      datasets: bandSets().concat([
        simLine(fDash100, dColors[100], true),
        simLine(fDash150, dColors[150], true),
        simLine(fDash200, dColors[200], true),
        simLine(fDash250, dColors[250], true),
        simLine(fDash300, dColors[300], true),
        simLine(fSolid100, dColors[100], false),
        simLine(fSolid200, dColors[200], false),
        simLine(fSolid300, dColors[300], false, 1.4),
        simLine(fSolid350, dColors[350], false, 1),
        simLine(fSolid400, dColors[400], false, 1.3),
        simLine(fSolid450, dColors[450], false, 1.3),
        simLine(fSolid500, '#e2683a', false, 1.4)
      ])
    },
    options: baseOptions(area, {
      x: timeX,
      y: { type: 'linear', min: ne.min, max: ne.max, display: false }
    }, { vgrid: monthTicks, axes: leftNeAxis() })
  });
})();

// G
(function () {
  const area = { l: 774.3, r: 1297.3, t: 378, b: 590 };
  const ne = vRange(2, 425.7, -2, 555.7, area.t, area.b);
  new Chart(makeCanvas('chartG'), {
    type: 'line',
    data: {
      datasets: bandSets().concat([
        simLine(gKailahun, '#3c8fd2', false, 1.3),
        simLine(gKenema, '#a03cf0', false, 1.3),
        simLine(gCapitals, '#ffa20a', false, 1.3),
        simLine(gCapitalsDash, '#ffa20a', true, 1.3),
        simLine(gKailahunDash, '#5a8fd6', true, 1.3),
        simLine(gKenemaDash, '#a35cf0', true, 1.3)
      ])
    },
    options: baseOptions(area, {
      x: timeX,
      y: { type: 'linear', min: ne.min, max: ne.max, display: false }
    }, {
      vgrid: monthTicks,
      axes: leftNeAxis([{
        scale: 'x', side: 'bottom', at: 590, ticks: monthTicks, gap: 15, lineH: 17,
        labels: monthLabels, font: '15px ' + FONT, color: '#222'
      }])
    })
  });
})();
</script>
</body>
</html>
